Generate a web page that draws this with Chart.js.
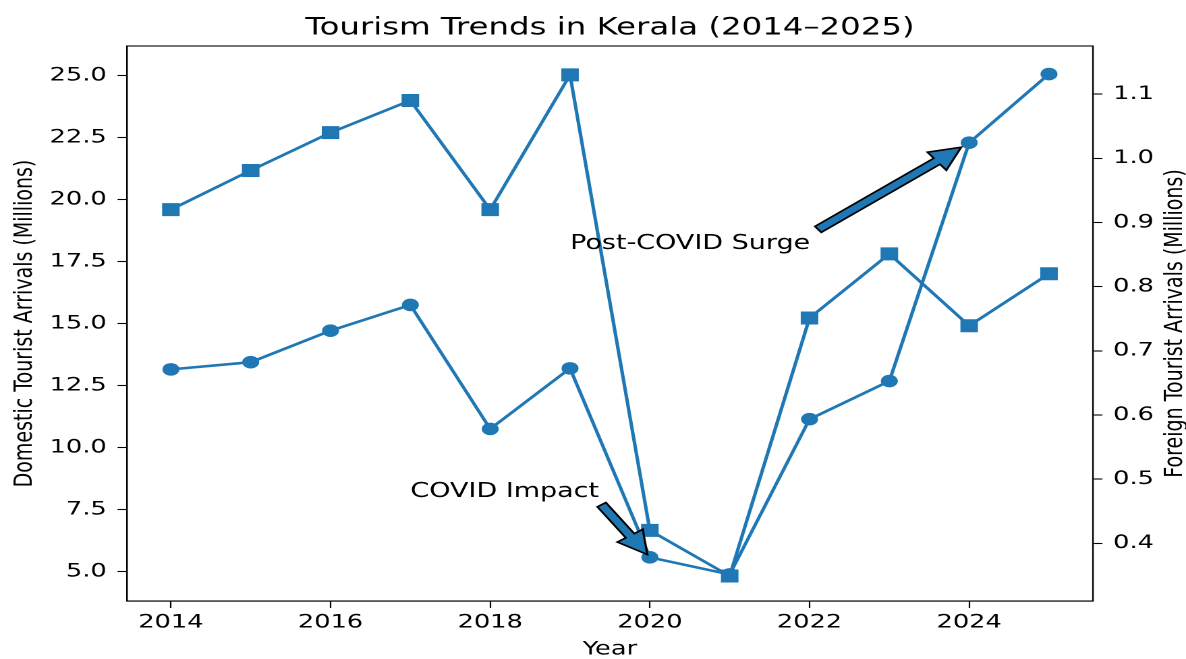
<!DOCTYPE html>
<html>
<head>
<meta charset="utf-8">
<script src="https://cdn.jsdelivr.net/npm/chart.js@4/dist/chart.umd.min.js"></script>
<style>
  html, body { margin: 0; padding: 0; background: #fff; overflow: hidden; }
  #wrap { width: 879px; height: 659px; transform: scaleX(1.34926); transform-origin: 0 0; }
  #c { width: 879px; height: 659px; display: block; }
</style>
</head>
<body>
<div id="wrap"><canvas id="c" width="879" height="659"></canvas></div>
<script>
// ---- data ----
const years = [2014, 2015, 2016, 2017, 2018, 2019, 2020, 2021, 2022, 2023, 2024, 2025];
const domestic = [13.15, 13.44, 14.71, 15.75, 10.75, 13.19, 5.57, 4.88, 11.14, 12.68, 22.29, 25.06];
const foreign = [0.920, 0.981, 1.040, 1.090, 0.920, 1.130, 0.420, 0.349, 0.751, 0.851, 0.739, 0.820];
const xTicks = [2014, 2016, 2018, 2020, 2022, 2024];
const leftTicks = [5.0, 7.5, 10.0, 12.5, 15.0, 17.5, 20.0, 22.5, 25.0];
const rightTicks = [0.4, 0.5, 0.6, 0.7, 0.8, 0.9, 1.0, 1.1];
const annotationTexts = ['COVID Impact', 'Post-COVID Surge'];
const annotationTextAt = [[2017, 8], [2019, 18]];
const annotationTargetIndex = [6, 10];

const titleText = 'Tourism Trends in Kerala (2014\u20132025)';
const xLabel = 'Year';
const leftLabel = 'Domestic Tourist Arrivals (Millions)';
const rightLabel = 'Foreign Tourist Arrivals (Millions)';

// ---- styles ----
const C0 = '#1f77b4';
const FONT = 'DejaVu Sans';
const FS = 19;
const AFS = 20;

const overlay = {
  id: 'overlay',
  afterDatasetsDraw(chart) {
    const { ctx, chartArea: a, scales } = chart;
    ctx.save();
    ctx.strokeStyle = '#000';
    ctx.lineWidth = 1.1;
    ctx.strokeRect(a.left, a.top, a.right - a.left, a.bottom - a.top);

    ctx.font = AFS + 'px "' + FONT + '"';
    ctx.textAlign = 'left';
    ctx.textBaseline = 'alphabetic';
    for (let k = 0; k < annotationTexts.length; k++) {
      const txt = annotationTexts[k];
      const tx = scales.x.getPixelForValue(annotationTextAt[k][0]);
      const ty = scales.y.getPixelForValue(annotationTextAt[k][1]);
      const i = annotationTargetIndex[k];
      const px = scales.x.getPixelForValue(years[i]);
      const py = scales.y.getPixelForValue(domestic[i]);
      ctx.fillStyle = '#000';
      ctx.fillText(txt, tx, ty);
      const w = ctx.measureText(txt).width;
      const x0 = tx, x1 = tx + w, y0 = ty - 0.76 * AFS, y1 = ty + 0.24 * AFS;
      const xs = [x0, (x0 + x1) / 2, x1];
      const ys = [y0, (y0 + y1) / 2, y1];
      const sx = xs.reduce((b, v) => Math.abs(v - px) < Math.abs(b - px) ? v : b);
      const sy = ys.reduce((b, v) => Math.abs(v - py) < Math.abs(b - py) ? v : b);
      const dx = px - sx, dy = py - sy, L = Math.hypot(dx, dy);
      const ux = dx / L, uy = dy / L, nx = -uy, ny = ux;
      const sh = 0.05 * L;
      const ax = sx + ux * sh, ay = sy + uy * sh;
      const bx = px - ux * sh, by = py - uy * sh;
      const tw = 7.6, hw = 22.8, hl = 22.8;
      const hx = bx - ux * hl, hy = by - uy * hl;
      ctx.beginPath();
      ctx.moveTo(ax + nx * tw / 2, ay + ny * tw / 2);
      ctx.lineTo(hx + nx * tw / 2, hy + ny * tw / 2);
      ctx.lineTo(hx + nx * hw / 2, hy + ny * hw / 2);
      ctx.lineTo(bx, by);
      ctx.lineTo(hx - nx * hw / 2, hy - ny * hw / 2);
      ctx.lineTo(hx - nx * tw / 2, hy - ny * tw / 2);
      ctx.lineTo(ax - nx * tw / 2, ay - ny * tw / 2);
      ctx.closePath();
      ctx.fillStyle = C0;
      ctx.fill();
      ctx.lineWidth = 1.6;
      ctx.strokeStyle = '#000';
      ctx.lineJoin = 'miter';
      ctx.stroke();
    }

    ctx.save();
    ctx.translate(871, (a.top + a.bottom) / 2);
    ctx.rotate(-Math.PI / 2);
    ctx.textAlign = 'center';
    ctx.textBaseline = 'middle';
    ctx.fillStyle = '#000';
    ctx.font = FS + 'px "' + FONT + '"';
    ctx.fillText(rightLabel, 0, 0);
    ctx.restore();

    ctx.restore();
  }
};

const gridOpts = { display: true, drawOnChartArea: false, drawTicks: true, tickLength: 7, tickColor: '#000', tickWidth: 1.1 };
const borderOpts = { display: true, color: '#000', width: 1.1 };
const tickFont = { family: FONT, size: FS };

new Chart(document.getElementById('c'), {
  type: 'line',
  data: {
    datasets: [
      {
        label: 'Foreign',
        data: years.map((yr, i) => ({ x: yr, y: foreign[i] })),
        yAxisID: 'y1',
        borderColor: C0, backgroundColor: C0,
        borderWidth: 2.6,
        pointStyle: 'rect', pointRadius: 9.2, pointBorderWidth: 0,
        pointBackgroundColor: C0, tension: 0, fill: false
      },
      {
        label: 'Domestic',
        data: years.map((yr, i) => ({ x: yr, y: domestic[i] })),
        yAxisID: 'y',
        borderColor: C0, backgroundColor: C0,
        borderWidth: 2.6,
        pointStyle: 'circle', pointRadius: 6.3, pointBorderWidth: 0,
        pointBackgroundColor: C0, tension: 0, fill: false
      }
    ]
  },
  options: {
    responsive: false,
    maintainAspectRatio: false,
    devicePixelRatio: 2,
    animation: false,
    layout: { padding: 0 },
    plugins: {
      legend: { display: false },
      tooltip: { enabled: false },
      title: {
        display: true, text: titleText, color: '#000', fullSize: false,
        font: { family: FONT, size: 24, weight: 'normal', lineHeight: 1.2 },
        padding: { top: 14, bottom: 3.2 }
      }
    },
    scales: {
      x: {
        type: 'linear', position: 'bottom', min: 2013.45, max: 2025.55,
        afterBuildTicks: s => { s.ticks = xTicks.map(v => ({ value: v })); },
        afterFit: s => { s.height = 58; },
        ticks: { font: tickFont, color: '#000', padding: 3, autoSkip: false, maxRotation: 0, callback: v => String(v) },
        grid: gridOpts, border: borderOpts,
        title: { display: true, text: xLabel, color: '#000', font: { family: FONT, size: FS, lineHeight: 1 }, padding: { top: 0, bottom: 0 } }
      },
      y: {
        type: 'linear', position: 'left', min: 3.81, max: 26.19,
        afterBuildTicks: s => { s.ticks = leftTicks.map(v => ({ value: v })); },
        afterFit: s => { s.width = 94.1; },
        ticks: { font: tickFont, color: '#000', padding: 8, callback: v => Number(v).toFixed(1) },
        grid: gridOpts, border: borderOpts,
        title: { display: true, text: leftLabel, color: '#000', font: { family: FONT, size: FS, lineHeight: 1 }, padding: { top: 9, bottom: 0 } }
      },
      y1: {
        type: 'linear', position: 'right', min: 0.31, max: 1.175,
        afterBuildTicks: s => { s.ticks = rightTicks.map(v => ({ value: v })); },
        afterFit: s => { s.width = 69; },
        ticks: { font: tickFont, color: '#000', padding: 8, callback: v => Number(v).toFixed(1) },
        grid: gridOpts, border: borderOpts,
        title: { display: false }
      }
    }
  },
  plugins: [overlay]
});
</script>
</body>
</html>
